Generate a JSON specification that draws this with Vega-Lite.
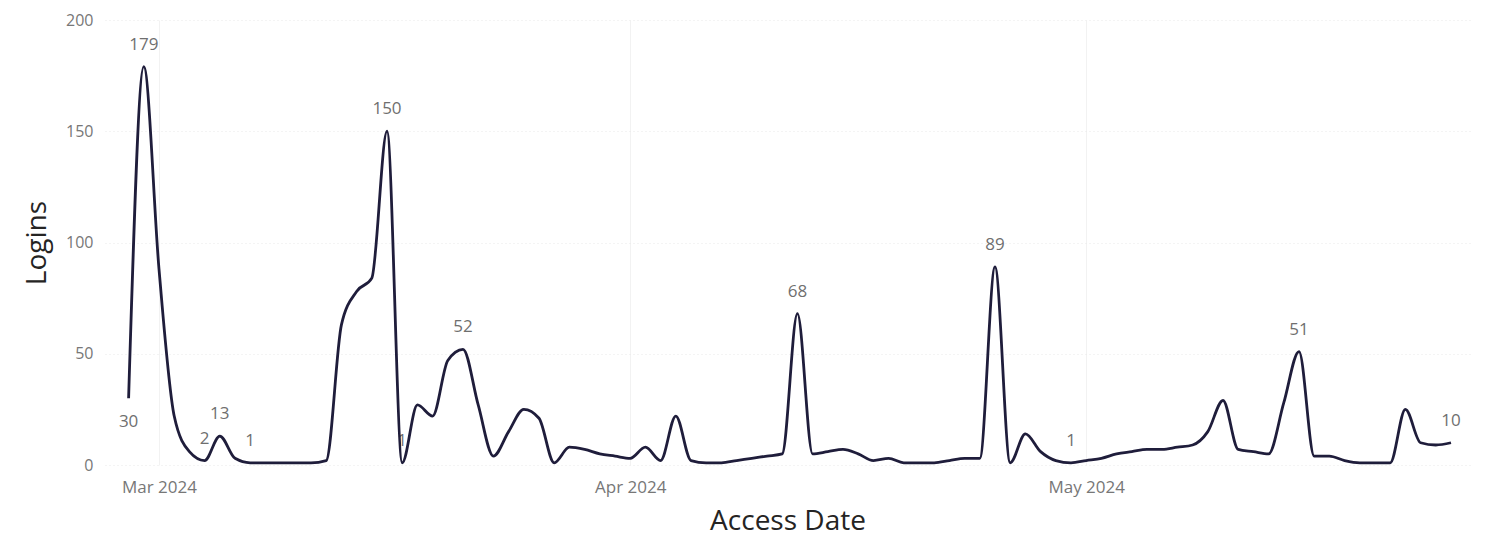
{
  "$schema": "https://vega.github.io/schema/vega-lite/v6.json",
  "width": 1365,
  "height": 445,
  "autosize": {"type": "none"},
  "padding": {"left": 105, "top": 20, "right": 20, "bottom": 76},
  "background": "white",
  "config": {"view": {"stroke": null}, "font": "Open Sans"},
  "data": {
    "values": [
      {"date": "2024-02-28", "logins": 30, "labeled": true},
      {"date": "2024-02-29", "logins": 179, "labeled": true},
      {"date": "2024-03-01", "logins": 88, "labeled": false},
      {"date": "2024-03-02", "logins": 22, "labeled": false},
      {"date": "2024-03-03", "logins": 6, "labeled": false},
      {"date": "2024-03-04", "logins": 2, "labeled": true},
      {"date": "2024-03-05", "logins": 13, "labeled": true},
      {"date": "2024-03-06", "logins": 3, "labeled": false},
      {"date": "2024-03-07", "logins": 1, "labeled": true},
      {"date": "2024-03-08", "logins": 1, "labeled": false},
      {"date": "2024-03-09", "logins": 1, "labeled": false},
      {"date": "2024-03-10", "logins": 1, "labeled": false},
      {"date": "2024-03-11", "logins": 1, "labeled": false},
      {"date": "2024-03-12", "logins": 2, "labeled": false},
      {"date": "2024-03-13", "logins": 63, "labeled": false},
      {"date": "2024-03-14", "logins": 78, "labeled": false},
      {"date": "2024-03-15", "logins": 84, "labeled": false},
      {"date": "2024-03-16", "logins": 150, "labeled": true},
      {"date": "2024-03-17", "logins": 1, "labeled": true},
      {"date": "2024-03-18", "logins": 27, "labeled": false},
      {"date": "2024-03-19", "logins": 22, "labeled": false},
      {"date": "2024-03-20", "logins": 47, "labeled": false},
      {"date": "2024-03-21", "logins": 52, "labeled": true},
      {"date": "2024-03-22", "logins": 27, "labeled": false},
      {"date": "2024-03-23", "logins": 4, "labeled": false},
      {"date": "2024-03-24", "logins": 15, "labeled": false},
      {"date": "2024-03-25", "logins": 25, "labeled": false},
      {"date": "2024-03-26", "logins": 21, "labeled": false},
      {"date": "2024-03-27", "logins": 1, "labeled": false},
      {"date": "2024-03-28", "logins": 8, "labeled": false},
      {"date": "2024-03-29", "logins": 7, "labeled": false},
      {"date": "2024-03-30", "logins": 5, "labeled": false},
      {"date": "2024-03-31", "logins": 4, "labeled": false},
      {"date": "2024-04-01", "logins": 3, "labeled": false},
      {"date": "2024-04-02", "logins": 8, "labeled": false},
      {"date": "2024-04-03", "logins": 2, "labeled": false},
      {"date": "2024-04-04", "logins": 22, "labeled": false},
      {"date": "2024-04-05", "logins": 2, "labeled": false},
      {"date": "2024-04-06", "logins": 1, "labeled": false},
      {"date": "2024-04-07", "logins": 1, "labeled": false},
      {"date": "2024-04-08", "logins": 2, "labeled": false},
      {"date": "2024-04-09", "logins": 3, "labeled": false},
      {"date": "2024-04-10", "logins": 4, "labeled": false},
      {"date": "2024-04-11", "logins": 5, "labeled": false},
      {"date": "2024-04-12", "logins": 68, "labeled": true},
      {"date": "2024-04-13", "logins": 5, "labeled": false},
      {"date": "2024-04-14", "logins": 6, "labeled": false},
      {"date": "2024-04-15", "logins": 7, "labeled": false},
      {"date": "2024-04-16", "logins": 5, "labeled": false},
      {"date": "2024-04-17", "logins": 2, "labeled": false},
      {"date": "2024-04-18", "logins": 3, "labeled": false},
      {"date": "2024-04-19", "logins": 1, "labeled": false},
      {"date": "2024-04-20", "logins": 1, "labeled": false},
      {"date": "2024-04-21", "logins": 1, "labeled": false},
      {"date": "2024-04-22", "logins": 2, "labeled": false},
      {"date": "2024-04-23", "logins": 3, "labeled": false},
      {"date": "2024-04-24", "logins": 3, "labeled": false},
      {"date": "2024-04-25", "logins": 89, "labeled": true},
      {"date": "2024-04-26", "logins": 1, "labeled": false},
      {"date": "2024-04-27", "logins": 14, "labeled": false},
      {"date": "2024-04-28", "logins": 6, "labeled": false},
      {"date": "2024-04-29", "logins": 2, "labeled": false},
      {"date": "2024-04-30", "logins": 1, "labeled": true},
      {"date": "2024-05-01", "logins": 2, "labeled": false},
      {"date": "2024-05-02", "logins": 3, "labeled": false},
      {"date": "2024-05-03", "logins": 5, "labeled": false},
      {"date": "2024-05-04", "logins": 6, "labeled": false},
      {"date": "2024-05-05", "logins": 7, "labeled": false},
      {"date": "2024-05-06", "logins": 7, "labeled": false},
      {"date": "2024-05-07", "logins": 8, "labeled": false},
      {"date": "2024-05-08", "logins": 9, "labeled": false},
      {"date": "2024-05-09", "logins": 15, "labeled": false},
      {"date": "2024-05-10", "logins": 29, "labeled": false},
      {"date": "2024-05-11", "logins": 7, "labeled": false},
      {"date": "2024-05-12", "logins": 6, "labeled": false},
      {"date": "2024-05-13", "logins": 5, "labeled": false},
      {"date": "2024-05-14", "logins": 28, "labeled": false},
      {"date": "2024-05-15", "logins": 51, "labeled": true},
      {"date": "2024-05-16", "logins": 4, "labeled": false},
      {"date": "2024-05-17", "logins": 4, "labeled": false},
      {"date": "2024-05-18", "logins": 2, "labeled": false},
      {"date": "2024-05-19", "logins": 1, "labeled": false},
      {"date": "2024-05-20", "logins": 1, "labeled": false},
      {"date": "2024-05-21", "logins": 1, "labeled": false},
      {"date": "2024-05-22", "logins": 25, "labeled": false},
      {"date": "2024-05-23", "logins": 10, "labeled": false},
      {"date": "2024-05-24", "logins": 9, "labeled": false},
      {"date": "2024-05-25", "logins": 10, "labeled": true}
    ]
  },
  "encoding": {
    "x": {
      "field": "date",
      "type": "temporal",
      "scale": {"type": "utc", "domain": [1708944220800, 1716703200000]},
      "axis": {
        "title": "Access Date",
        "values": [1709251200000, 1711929600000, 1714521600000],
        "format": "%b %Y",
        "domain": false,
        "ticks": false,
        "tickSize": 0,
        "labelPadding": 14,
        "labelFontSize": 17,
        "labelColor": "#777777",
        "labelFont": "Open Sans",
        "grid": true,
        "gridColor": "#f2f2f2",
        "gridWidth": 1,
        "titleFontSize": 28,
        "titleFont": "Open Sans",
        "titleFontWeight": "normal",
        "titleColor": "#252423",
        "titlePadding": 12
      }
    },
    "y": {
      "field": "logins",
      "type": "quantitative",
      "scale": {"domain": [0, 200], "nice": false, "zero": true},
      "axis": {
        "title": "Logins",
        "values": [0, 50, 100, 150, 200],
        "domain": false,
        "ticks": false,
        "tickSize": 0,
        "labelPadding": 12,
        "labelFontSize": 16,
        "labelColor": "#777777",
        "labelFont": "Open Sans",
        "grid": true,
        "gridColor": "#e9e9e9",
        "gridDash": [1, 3],
        "gridWidth": 1,
        "titleFontSize": 28,
        "titleFont": "Open Sans",
        "titleFontWeight": "normal",
        "titleColor": "#252423",
        "titlePadding": 14
      }
    }
  },
  "layer": [
    {
      "transform": [{"filter": "datum.labeled && datum.logins != 30"}],
      "mark": {"type": "text", "dy": -22, "baseline": "middle", "fontSize": 17, "color": "#6f6f6f", "font": "Open Sans"},
      "encoding": {"text": {"field": "logins", "type": "quantitative"}}
    },
    {
      "transform": [{"filter": "datum.labeled && datum.logins == 30"}],
      "mark": {"type": "text", "dy": 24, "baseline": "middle", "fontSize": 17, "color": "#6f6f6f", "font": "Open Sans"},
      "encoding": {"text": {"field": "logins", "type": "quantitative"}}
    },
    {
      "mark": {"type": "line", "interpolate": "monotone", "color": "#1f1d3b", "strokeWidth": 2.8},
      "encoding": {}
    }
  ]
}
